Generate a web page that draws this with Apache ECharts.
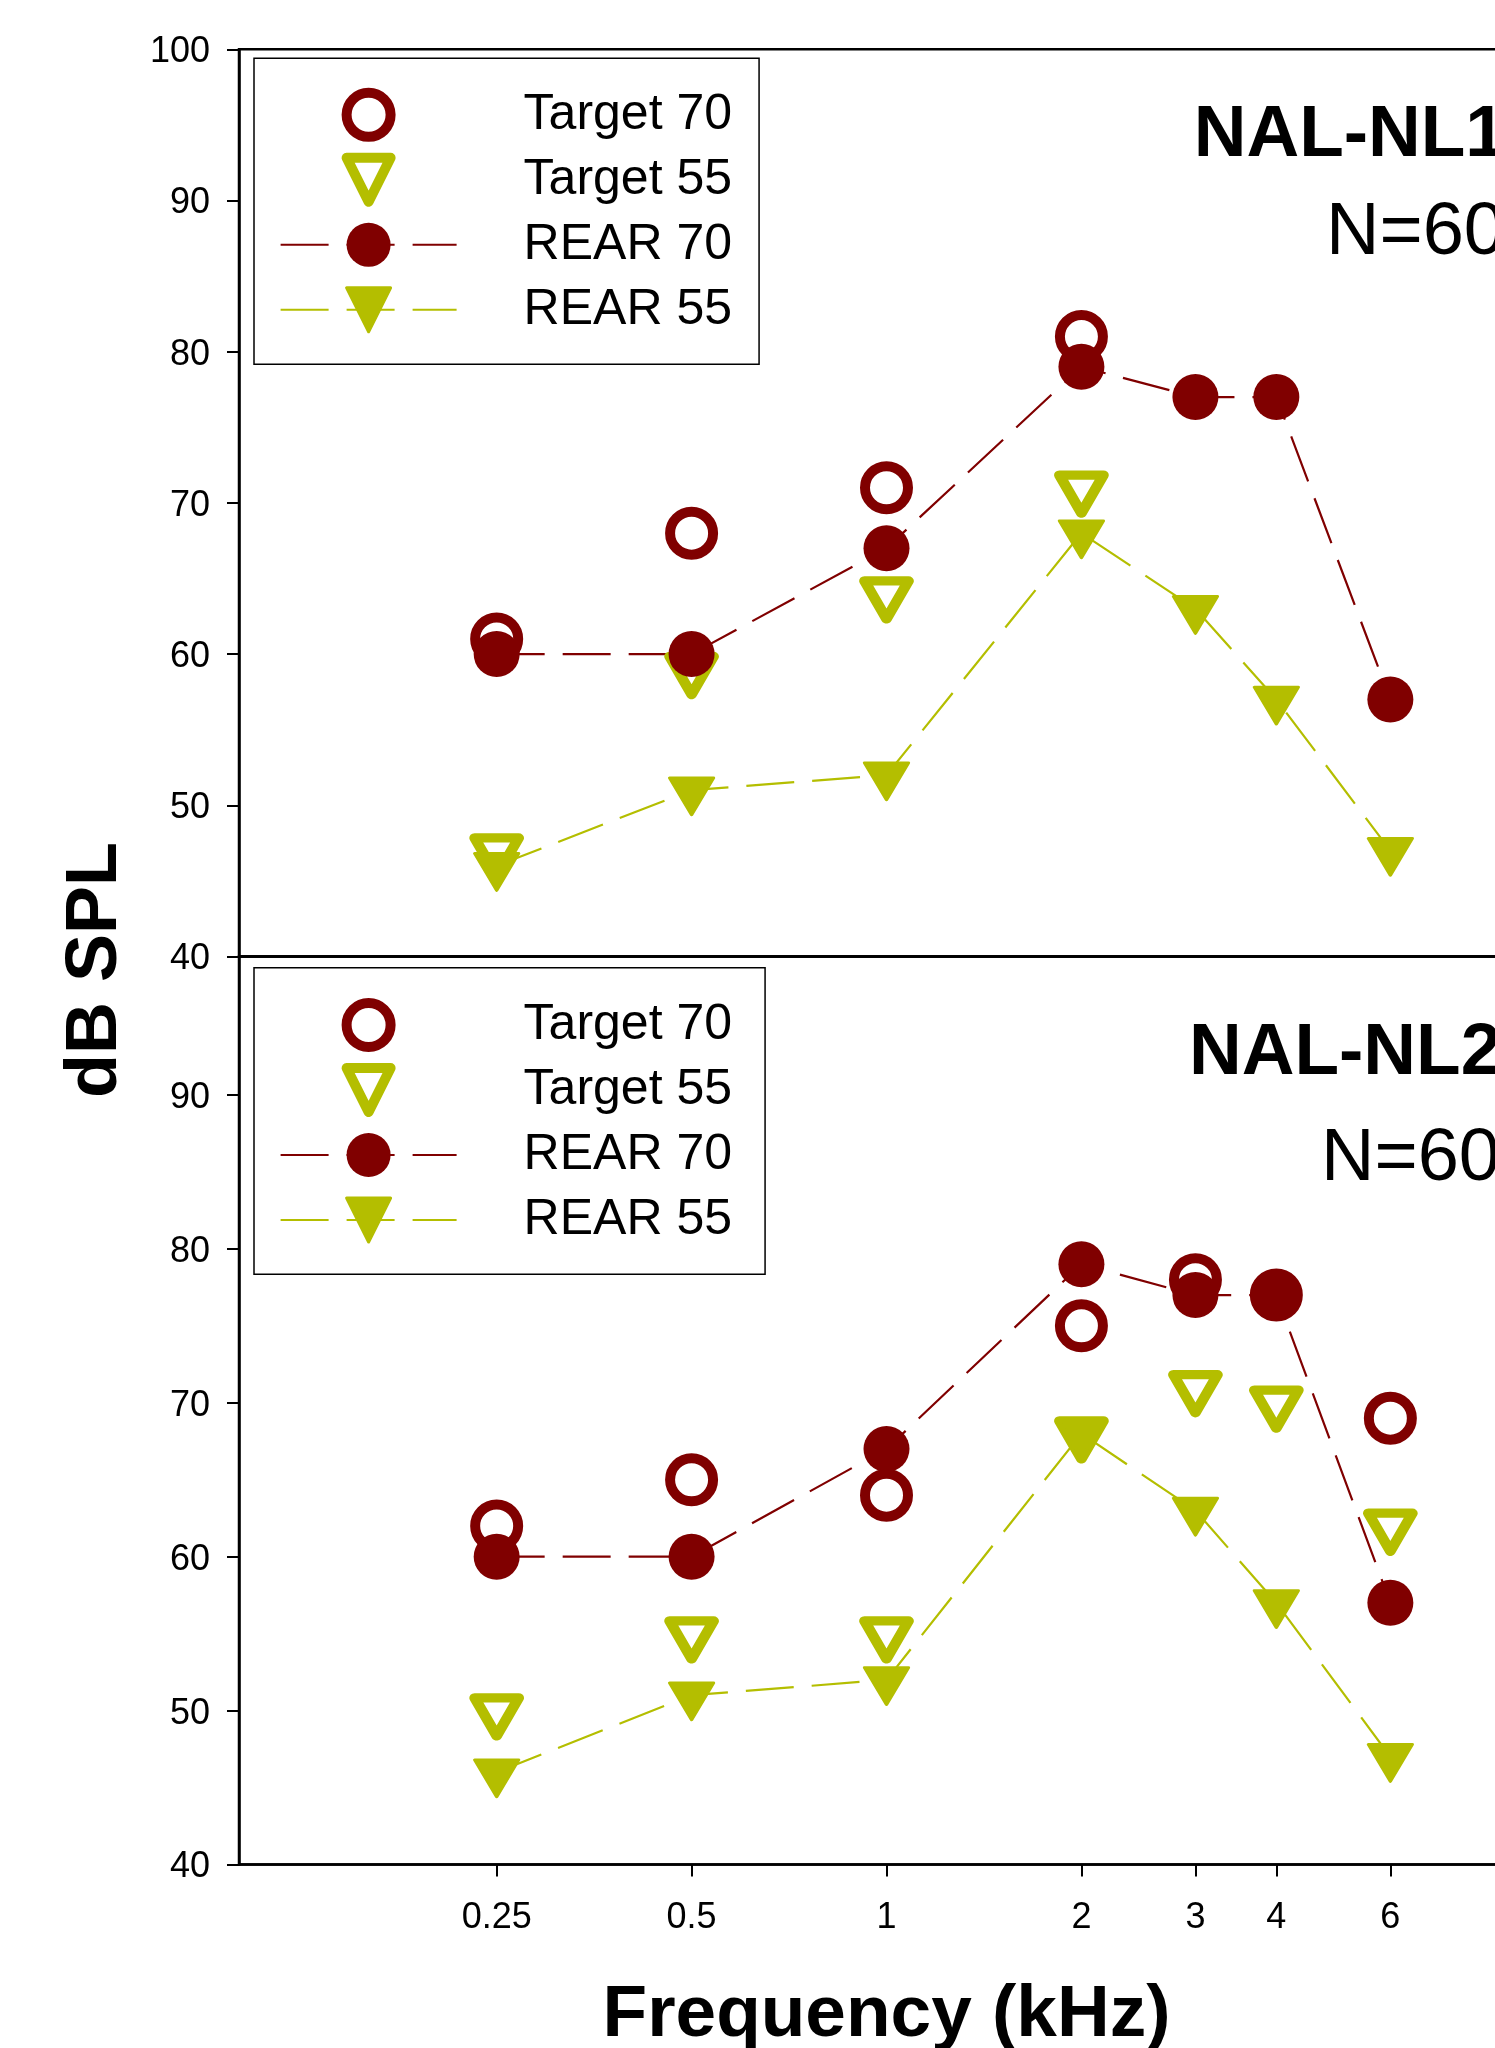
<!DOCTYPE html>
<html>
<head>
<meta charset="utf-8">
<script src="https://cdn.jsdelivr.net/npm/echarts@6/dist/echarts.min.js"></script>
<style>
html, body { margin: 0; padding: 0; overflow: hidden; background: #fff; }
#c { width: 1600px; height: 2048px; }
</style>
</head>
<body>
<div id="c"></div>
<script>
// ---- data ----
const freqs = [0.25, 0.5, 1, 2, 3, 4, 6];
const xTickValues = [0.25, 0.5, 1, 2, 3, 4, 6];
const xTickLabels = ['0.25', '0.5', '1', '2', '3', '4', '6'];
const seriesNames = ['Target 70', 'Target 55', 'REAR 70', 'REAR 55'];
const panelTitles = ['NAL-NL1', 'NAL-NL2'];
const panelNotes = ['N=60', 'N=60'];

const nl1Target70 = [61, 68, 71, 81, null, null, null];
const nl1Target55 = [47, 59, 64, 71, null, null, null];
const nl1Rear70 = [60, 60, 67, 79, 77, 77, 57];
const nl1Rear55 = [46, 51, 52, 68, 63, 57, 47];

const nl2Target70 = [62, 65, 64, 75, 78, 77, 69];
const nl2Target55 = [50, 55, 55, 68, 71, 70, 62];
const nl2Rear70 = [60, 60, 67, 79, 77, 77, 57];
const nl2Rear55 = [46, 51, 52, 68, 63, 57, 47];

// ---- styling ----
const RED = '#800000';
const YG = '#b4be00';
const FONT = '"Liberation Sans", Arial, Helvetica, sans-serif';

const openCircleStyle = { color: '#fff', borderColor: RED, borderWidth: 10 };
const openTriStyle = { color: '#fff', borderColor: YG, borderWidth: 10, borderJoin: 'round' };
const fillCircleStyle = { color: RED, borderColor: RED, borderWidth: 0 };
const fillTriStyle = { color: YG, borderColor: YG, borderWidth: 3, borderJoin: 'round' };

function pairs(vals) {
  return freqs.map((f, i) => [f, vals[i]]).filter(p => p[1] != null);
}

function target70(g, vals) {
  return {
    name: seriesNames[0], type: 'line', xAxisIndex: g, yAxisIndex: g,
    data: pairs(vals), symbol: 'circle', symbolSize: 43, showAllSymbol: true,
    lineStyle: { opacity: 0, width: 0 },
    itemStyle: openCircleStyle,
    emphasis: { disabled: true }, silent: true
  };
}
function target55(g, vals) {
  return {
    name: seriesNames[1], type: 'line', xAxisIndex: g, yAxisIndex: g,
    data: pairs(vals), symbol: 'triangle', symbolRotate: 180, symbolSize: [44, 38],
    symbolOffset: [0, 6.3], showAllSymbol: true,
    lineStyle: { opacity: 0, width: 0 },
    itemStyle: openTriStyle,
    emphasis: { disabled: true }, silent: true
  };
}
function rear70(g, vals) {
  return {
    name: seriesNames[2], type: 'line', xAxisIndex: g, yAxisIndex: g,
    data: pairs(vals), symbol: 'circle', symbolSize: 46, showAllSymbol: true,
    lineStyle: { color: RED, width: 2.2, type: [48, 18] },
    itemStyle: fillCircleStyle,
    emphasis: { disabled: true }, silent: true
  };
}
function rear55(g, vals) {
  return {
    name: seriesNames[3], type: 'line', xAxisIndex: g, yAxisIndex: g,
    data: pairs(vals), symbol: 'triangle', symbolRotate: 180, symbolSize: [44, 37],
    symbolOffset: [0, 6.2], showAllSymbol: true,
    lineStyle: { color: YG, width: 2.2, type: [48, 18] },
    itemStyle: fillTriStyle,
    emphasis: { disabled: true }, silent: true
  };
}

function xAxisDef(g, withLabels) {
  const ax = {
    gridIndex: g, type: 'log', logBase: 10, min: 0.1, max: 10,
    axisLine: { show: true, lineStyle: { color: '#000', width: 2.5 } },
    splitLine: { show: false }, minorTick: { show: false }, minorSplitLine: { show: false },
    axisTick: { show: false }, axisLabel: { show: false }
  };
  if (withLabels) {
    ax.axisTick = { show: true, length: 12, lineStyle: { color: '#000', width: 2 }, customValues: xTickValues };
    ax.axisLabel = {
      show: true, customValues: xTickValues, fontSize: 36, fontFamily: FONT, color: '#000', margin: 36,
      formatter: v => { const i = xTickValues.findIndex(t => Math.abs(t - v) < 1e-6); return i >= 0 ? xTickLabels[i] : ''; }
    };
    ax.name = 'Frequency (kHz)';
    ax.nameLocation = 'middle';
    ax.nameGap = 115;
    ax.nameTextStyle = { fontSize: 73, fontWeight: 'bold', fontFamily: FONT, color: '#000' };
  }
  return ax;
}
function yAxisDef(g, max, showMax) {
  return {
    gridIndex: g, type: 'value', min: 40, max: max, interval: 10,
    axisLine: { show: true, lineStyle: { color: '#000', width: 2.5 } },
    axisTick: { show: true, length: 12, lineStyle: { color: '#000', width: 2 } },
    axisLabel: {
      color: '#000', margin: 29, showMaxLabel: showMax, showMinLabel: true,
      formatter: '{v|{value}}',
      rich: { v: { fontSize: 36, fontFamily: FONT, color: '#000', padding: [6, 0, 0, 0] } }
    },
    splitLine: { show: false }
  };
}
function legendDef(top, padding) {
  return {
    data: [
      { name: seriesNames[0], itemStyle: openCircleStyle },
      { name: seriesNames[1], itemStyle: openTriStyle },
      { name: seriesNames[2], itemStyle: fillCircleStyle },
      { name: seriesNames[3], itemStyle: fillTriStyle }
    ],
    orient: 'vertical', left: 254, top: top, padding: padding,
    itemWidth: 176, itemHeight: 55, itemGap: 10,
    borderColor: '#000', borderWidth: 1.5, backgroundColor: '#fff',
    selectedMode: false,
    textStyle: { fontSize: 50, fontFamily: FONT, color: '#000', lineHeight: 47, padding: [8, 0, 0, 62] }
  };
}
function txt(x, y, text, size, bold, rot) {
  return {
    type: 'text', x: x, y: y, rotation: rot || 0, silent: true,
    style: { text: text, fontSize: size, fontWeight: bold ? 'bold' : 'normal', fontFamily: FONT,
             fill: '#000', align: rot ? 'center' : 'left', verticalAlign: 'middle' }
  };
}

const chart = echarts.init(document.getElementById('c'), null, { renderer: 'canvas' });
chart.setOption({
  animation: false,
  backgroundColor: '#fff',
  grid: [
    { left: 239, right: 66, top: 49.3, height: 907.2, show: true, borderColor: '#000', borderWidth: 2.5,
      backgroundColor: 'transparent', containLabel: false, outerBoundsMode: 'none' },
    { left: 239, right: 66, top: 956.5, height: 908, show: true, borderColor: '#000', borderWidth: 2.5,
      backgroundColor: 'transparent', containLabel: false, outerBoundsMode: 'none' }
  ],
  xAxis: [xAxisDef(0, false), xAxisDef(1, true)],
  yAxis: [yAxisDef(0, 100, true), yAxisDef(1, 99, false)],
  legend: [
    legendDef(58.3, [29, 27, 27, 25.6]),
    legendDef(967.7, [29.8, 33, 26.7, 25.6])
  ],
  graphic: [
    txt(96, 970, 'dB SPL', 72, true, Math.PI / 2),
    txt(1193.7, 136, panelTitles[0], 73, true),
    txt(1326, 234, panelNotes[0], 74, false),
    txt(1189, 1054, panelTitles[1], 73, true),
    txt(1321, 1160, panelNotes[1], 74, false)
  ],
  series: [
    target70(0, nl1Target70), target55(0, nl1Target55), rear70(0, nl1Rear70), rear55(0, nl1Rear55),
    target70(1, nl2Target70), target55(1, nl2Target55), rear70(1, nl2Rear70), rear55(1, nl2Rear55)
  ]
});
</script>
</body>
</html>
